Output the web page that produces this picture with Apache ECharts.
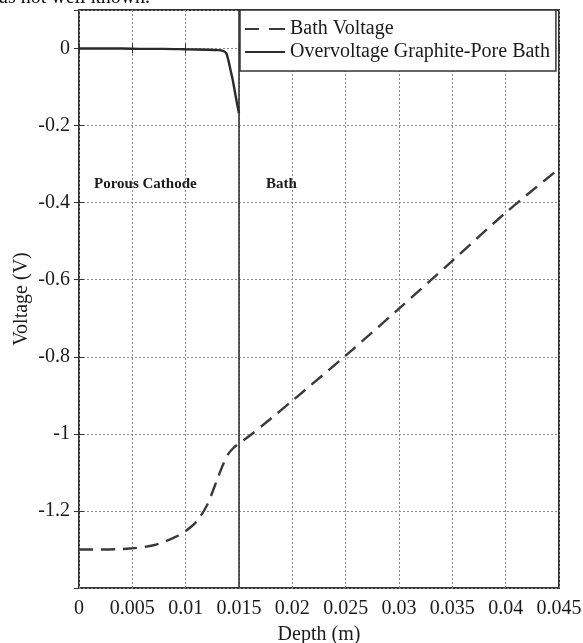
<!DOCTYPE html>
<html>
<head>
<meta charset="utf-8">
<script src="https://cdn.jsdelivr.net/npm/echarts@6/dist/echarts.min.js"></script>
<style>
html,body{margin:0;padding:0;background:#fff;}
#chart{width:583px;height:643px;}
</style>
</head>
<body>
<div id="chart"></div>
<script>
// Data
const bathDepth = [0, 0.002, 0.004, 0.005, 0.006, 0.007, 0.008, 0.009, 0.010, 0.011, 0.012, 0.013, 0.0135, 0.014, 0.0145, 0.015, 0.016, 0.018, 0.020, 0.025, 0.030, 0.035, 0.040, 0.045];
const bathVoltage = [-1.300, -1.300, -1.299, -1.297, -1.294, -1.289, -1.280, -1.268, -1.252, -1.228, -1.185, -1.115, -1.080, -1.052, -1.036, -1.025, -1.005, -0.960, -0.914, -0.797, -0.675, -0.551, -0.426, -0.312];
const overDepth = [0, 0.002, 0.004, 0.006, 0.008, 0.010, 0.012, 0.013, 0.0135, 0.0138, 0.014, 0.0142, 0.0144, 0.0146, 0.0148, 0.015];
const overVoltage = [0, 0, 0, -0.001, -0.001, -0.002, -0.003, -0.004, -0.006, -0.012, -0.030, -0.055, -0.080, -0.110, -0.140, -0.168];
const seriesNames = ['Bath Voltage', 'Overvoltage Graphite-Pore Bath'];
const regionLabels = ['Porous Cathode', 'Bath'];
const boundaryDepth = [0.015, 0.015];
const boundaryVoltage = [-1.4, 0.1];
const xTicks = {min: 0, max: 0.045, interval: 0.005};
const yTicks = {min: -1.4, max: 0.1, interval: 0.2};
const xTitle = 'Depth (m)';
const yTitle = 'Voltage (V)';
const headerText = 'as not well known.';

const FONT = '"Liberation Serif", "Times New Roman", serif';
const INK = '#1a1a1a';

const zip = (xs, ys) => xs.map((x, i) => [x, ys[i]]);

const chart = echarts.init(document.getElementById('chart'), null, {renderer: 'canvas'});
const option = {
  animation: false,
  backgroundColor: '#fff',
  grid: {left: 79, right: 24, top: 10, bottom: 55, containLabel: false, outerBoundsMode: 'none',
    show: true, borderColor: '#333', borderWidth: 2, backgroundColor: 'transparent'},
  legend: {
    show: true, orient: 'vertical', left: 240, top: 10,
    backgroundColor: '#fff', borderColor: '#333', borderWidth: 1.5,
    padding: [9, 6, 9, 5], itemGap: 3, itemWidth: 40, itemHeight: 2,
    textStyle: {fontFamily: FONT, fontSize: 20, color: INK, lineHeight: 20},
    data: [
      {name: seriesNames[0], icon: 'path://M0,0h14v2h-14zM24,0h16v2h-16z', itemStyle: {color: '#3a3a3a'}},
      {name: seriesNames[1], icon: 'path://M0,0h40v2h-40z', itemStyle: {color: '#2a2a2a'}}
    ]
  },
  xAxis: [{
    type: 'value', min: xTicks.min, max: xTicks.max, interval: xTicks.interval,
    name: xTitle, nameLocation: 'middle', nameGap: 37, nameMoveOverlap: false,
    nameTextStyle: {fontFamily: FONT, fontSize: 20, color: INK},
    axisLine: {show: false},
    axisTick: {show: true, inside: true, length: 5, lineStyle: {color: '#333'}},
    axisLabel: {fontFamily: FONT, fontSize: 20, color: INK, margin: 11,
      formatter: v => String(+v.toFixed(3))},
    splitLine: {show: true, lineStyle: {type: [2, 2], color: '#8a8a8a', width: 1}}
  }, {
    type: 'value', position: 'top', min: xTicks.min, max: xTicks.max, interval: xTicks.interval,
    axisLine: {show: false}, axisLabel: {show: false}, splitLine: {show: false},
    axisTick: {show: true, inside: true, length: 5, lineStyle: {color: '#333'}}
  }],
  yAxis: [{
    type: 'value', min: yTicks.min, max: yTicks.max, interval: yTicks.interval,
    name: yTitle, nameLocation: 'middle', nameGap: 47, nameRotate: 90, nameMoveOverlap: false,
    nameTextStyle: {fontFamily: FONT, fontSize: 20, color: INK},
    axisLine: {show: false},
    axisTick: {show: true, inside: true, length: 5, lineStyle: {color: '#333'}},
    axisLabel: {fontFamily: FONT, fontSize: 20, color: INK, margin: 9, showMinLabel: false, showMaxLabel: false,
      formatter: v => {const r = Math.round(v * 10) / 10; if (r <= -1.4 || r > 0.05) return ''; return String(r);}},
    splitLine: {show: true, lineStyle: {type: [2, 2], color: '#8a8a8a', width: 1}}
  }, {
    type: 'value', position: 'right', min: yTicks.min, max: yTicks.max, interval: yTicks.interval,
    axisLine: {show: false}, axisLabel: {show: false}, splitLine: {show: false},
    axisTick: {show: true, inside: true, length: 5, lineStyle: {color: '#333'}}
  }],
  series: [{
    name: 'boundary', type: 'line', data: zip(boundaryDepth, boundaryVoltage),
    symbol: 'none', silent: true, color: '#333',
    lineStyle: {type: 'solid', width: 1.6, color: '#333'}
  }, {
    name: seriesNames[0], type: 'line', data: zip(bathDepth, bathVoltage),
    symbol: 'none', smooth: 0.3, color: '#3a3a3a',
    lineStyle: {type: [14, 8], width: 2.4, color: '#3a3a3a'}
  }, {
    name: seriesNames[1], type: 'line', data: zip(overDepth, overVoltage),
    symbol: 'none', smooth: 0.3, color: '#2a2a2a',
    lineStyle: {type: 'solid', width: 2.4, color: '#2a2a2a'}
  }],
  graphic: [
    {type: 'text', left: 94, top: 177, style: {text: regionLabels[0], font: 'bold 15px ' + FONT, fill: INK}},
    {type: 'text', left: 266, top: 177, style: {text: regionLabels[1], font: 'bold 15px ' + FONT, fill: INK}},
    {type: 'text', left: -1, top: -12, style: {text: headerText, font: '20px ' + FONT, fill: '#111'}}
  ]
};
chart.setOption(option);
</script>
</body>
</html>
